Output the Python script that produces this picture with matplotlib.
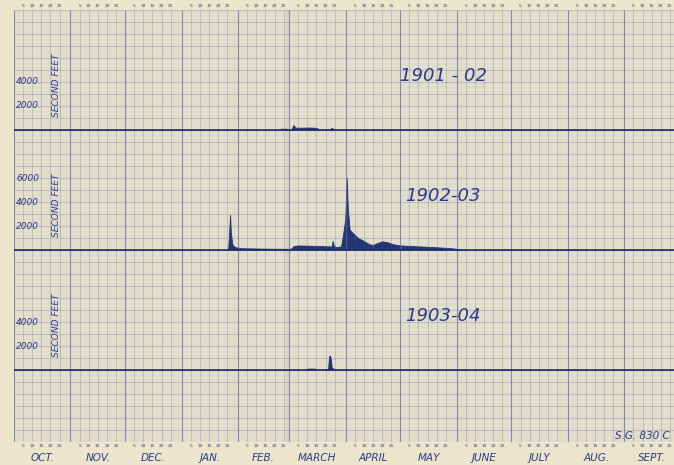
import numpy as np
import matplotlib
matplotlib.use('Agg')
import matplotlib.pyplot as plt
import matplotlib.transforms as mtransforms

# Meses del año hidrológico (octubre a septiembre)
meses = ['OCT.', 'NOV.', 'DEC.', 'JAN.', 'FEB.', 'MARCH', 'APRIL', 'MAY', 'JUNE', 'JULY', 'AUG.', 'SEPT.']
dias_mes = [31, 30, 31, 31, 28, 31, 30, 31, 30, 31, 31, 30]
marcas_dias = [5, 10, 15, 20, 25]

anios = ['1901 - 02', '1902-03', '1903-04']
etiquetas_caudal = [[4000, 2000], [6000, 4000, 2000], [4000, 2000]]

# Caudal (día del año hidrológico desde el 1 de octubre, pies cúbicos por segundo)
dias_1901 = [0, 145.5, 146.5, 149.5, 150.5, 152.5, 153.3, 154.5, 157, 162, 166, 167.5, 173, 174.4, 176, 177, 365]
caudal_1901 = [0, 0, 110, 110, 30, 80, 420, 200, 190, 210, 180, 40, 40, 170, 40, 0, 0]

dias_1902 = [0, 117.5, 118.0, 118.6, 119.0, 119.8, 121, 125, 135, 145, 152, 153.5, 156, 162, 170,
             174.3, 174.9, 175.6, 177, 179.5, 180.6, 181.8, 182.6, 183.2, 184.2, 186, 189, 192, 195,
             197, 199, 202, 205, 208, 212, 220, 230, 240, 245, 246.5, 365]
caudal_1902 = [0, 0, 1200, 2950, 1500, 500, 250, 150, 120, 100, 100, 330, 380, 360, 320,
               300, 750, 320, 250, 300, 1300, 2600, 6000, 3500, 1700, 1400, 1000, 750, 480,
               420, 560, 720, 650, 480, 380, 320, 250, 150, 60, 0, 0]

dias_1903 = [0, 160.5, 161, 165, 165.5, 172.4, 172.9, 173.4, 173.9, 174.4, 175.5, 177.5, 365]
caudal_1903 = [0, 0, 120, 120, 20, 60, 1150, 1200, 900, 200, 80, 0, 0]

series = [(dias_1901, caudal_1901), (dias_1902, caudal_1902), (dias_1903, caudal_1903)]

# Colores del papel y la tinta
papel = '#ece5cc'
azul = '#5468b4'
tinta = '#2a3c8a'
relleno = '#22326e'

ANCHO, ALTO = 674, 465
PX_DIA = 1.822
x0, y_sup, y_inf = 14, 10, 442

fig = plt.figure(figsize=(ANCHO / 100, ALTO / 100), dpi=100)
fig.patch.set_facecolor(papel)
ax = fig.add_axes([x0 / ANCHO, (ALTO - y_inf) / ALTO, 365 * PX_DIA / ANCHO, (y_inf - y_sup) / ALTO])
ax.set_facecolor(papel)
ax.set_xlim(0, 365)
ax.set_ylim(-36, 0)
ax.set_xticks([])
ax.set_yticks([])
for lado in ax.spines.values():
    lado.set_visible(False)

inicio_mes = np.concatenate([[0], np.cumsum(dias_mes)])

# Cuadrícula del papel milimetrado
ax.vlines(np.arange(0, 366), -36, 0, color=azul, lw=0.3, alpha=0.14)
ax.hlines(np.arange(-36, 0.01, 0.2), 0, 365, color=azul, lw=0.3, alpha=0.14)
cinco = [s + d for s in inicio_mes[:-1] for d in marcas_dias]
ax.vlines(cinco, -36, 0, color=azul, lw=0.5, alpha=0.38)
ax.hlines(np.arange(-36, 0.01, 1), 0, 365, color=azul, lw=0.5, alpha=0.38)
ax.vlines(inicio_mes, -36, 0, color=azul, lw=0.8, alpha=0.7)

# Pliegue del papel
ax.axvspan(149.5, 151.2, color='#8a7d5a', alpha=0.12, lw=0)

trans_x = mtransforms.blended_transform_factory(ax.transData, ax.transAxes)
fuente = dict(family='DejaVu Sans', style='italic', color=tinta)

# Hidrogramas, uno por año
for i, (dias, caudal) in enumerate(series):
    base = -10 * (i + 1)
    dias = np.array(dias, dtype=float)
    caudal = np.array(caudal, dtype=float)
    ax.fill_between(dias, base, base + caudal / 1000, color=relleno, lw=0.6, edgecolor=relleno)
    ax.axhline(base, color=relleno, lw=1.2)
    for v in etiquetas_caudal[i]:
        ax.text(7.5, base + v / 1000, str(v), ha='center', va='center', fontsize=6.5, **fuente)
    ax.text(23.5, base + 3.7, 'SECOND FEET', rotation=90, ha='center', va='center', fontsize=6.5, **fuente)
    ax.text(235.5, base + 4.5, anios[i], ha='center', va='center', fontsize=13, **fuente)

# Números de días arriba y abajo, y nombres de los meses
for j, s in enumerate(inicio_mes[:-1]):
    for d in marcas_dias:
        ax.text(s + d, 1 + 4 / 432, str(d), transform=trans_x, ha='center', va='center',
                fontsize=3.2, color=tinta, clip_on=False)
        ax.text(s + d, -4 / 432, str(d), transform=trans_x, ha='center', va='center',
                fontsize=3.2, color=tinta, clip_on=False)
    ax.text(s + dias_mes[j] / 2, -16 / 432, meses[j], transform=trans_x, ha='center', va='center',
            fontsize=7.5, clip_on=False, **fuente)

ax.text(345, -35.5, 'S.G. 830 C', ha='center', va='center', fontsize=7.5, **fuente)

fig.savefig('out.png', dpi=100, facecolor=papel)
